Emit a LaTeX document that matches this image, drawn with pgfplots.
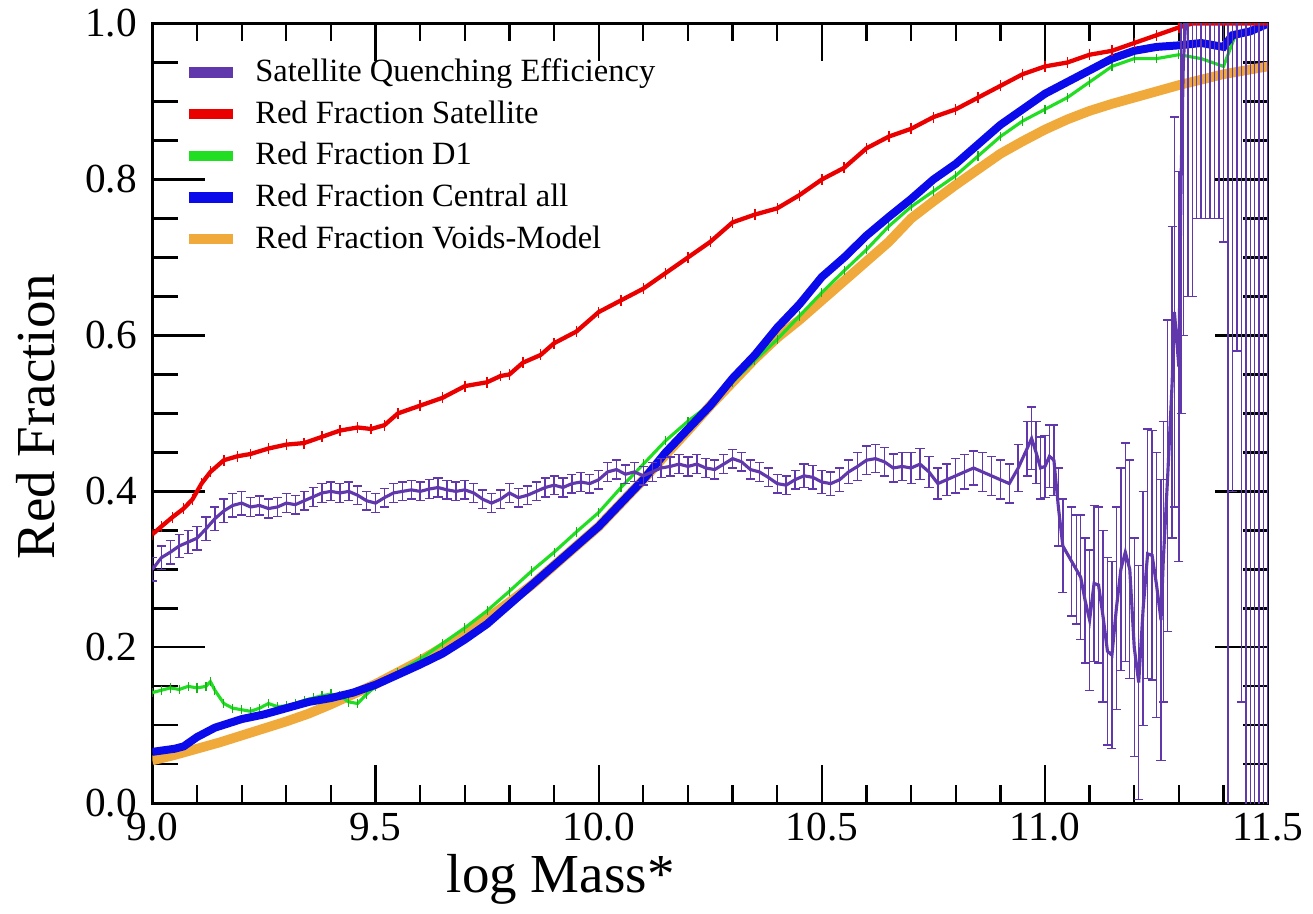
\documentclass[border=0pt]{standalone}
\usepackage{fontspec}
\setmainfont{Liberation Serif}[Ligatures=TeX]
\newfontfamily\tms{Liberation Serif}
\usepackage{pgfplots}
\usepackage{pgfplotstable}
\pgfplotsset{compat=1.18}

\definecolor{qpurple}{RGB}{96,56,172}
\definecolor{sred}{RGB}{235,0,0}
\definecolor{dgreen}{RGB}{34,222,34}
\definecolor{cblue}{RGB}{10,10,235}
\definecolor{vorange}{RGB}{240,170,60}

% satellite quenching efficiency (x, value, error)
\pgfplotstableread{
x y e
9.00 0.300 0.015
9.02 0.315 0.015
9.04 0.322 0.015
9.06 0.330 0.015
9.08 0.335 0.015
9.10 0.340 0.015
9.12 0.352 0.015
9.14 0.365 0.015
9.16 0.375 0.015
9.18 0.382 0.015
9.20 0.385 0.015
9.22 0.380 0.012
9.24 0.382 0.012
9.26 0.378 0.012
9.28 0.380 0.012
9.30 0.385 0.012
9.32 0.383 0.012
9.34 0.388 0.012
9.36 0.393 0.012
9.38 0.398 0.012
9.40 0.400 0.012
9.42 0.398 0.012
9.44 0.400 0.012
9.46 0.395 0.012
9.48 0.388 0.012
9.50 0.385 0.012
9.52 0.392 0.012
9.54 0.398 0.012
9.56 0.400 0.012
9.58 0.402 0.012
9.60 0.400 0.012
9.62 0.403 0.012
9.64 0.405 0.012
9.66 0.402 0.012
9.68 0.400 0.012
9.70 0.402 0.012
9.72 0.398 0.012
9.74 0.390 0.012
9.76 0.385 0.012
9.78 0.390 0.012
9.80 0.398 0.012
9.82 0.392 0.012
9.84 0.395 0.012
9.86 0.400 0.012
9.88 0.405 0.012
9.90 0.408 0.012
9.92 0.405 0.012
9.94 0.410 0.012
9.96 0.412 0.012
9.98 0.410 0.012
10.00 0.415 0.012
10.02 0.425 0.012
10.04 0.428 0.012
10.06 0.422 0.012
10.08 0.425 0.012
10.10 0.420 0.012
10.12 0.425 0.012
10.14 0.430 0.012
10.16 0.432 0.012
10.18 0.435 0.012
10.20 0.432 0.012
10.22 0.435 0.012
10.24 0.430 0.012
10.26 0.428 0.012
10.28 0.435 0.012
10.30 0.442 0.012
10.32 0.438 0.012
10.34 0.428 0.012
10.36 0.425 0.012
10.38 0.418 0.012
10.40 0.410 0.012
10.42 0.408 0.012
10.44 0.415 0.012
10.46 0.420 0.015
10.48 0.418 0.015
10.50 0.412 0.015
10.52 0.410 0.015
10.54 0.415 0.015
10.56 0.425 0.015
10.58 0.432 0.018
10.60 0.440 0.018
10.62 0.442 0.018
10.64 0.438 0.018
10.66 0.430 0.018
10.68 0.432 0.018
10.70 0.430 0.020
10.72 0.435 0.020
10.74 0.425 0.020
10.76 0.410 0.020
10.78 0.415 0.020
10.80 0.420 0.022
10.82 0.425 0.022
10.84 0.430 0.022
10.86 0.425 0.025
10.88 0.420 0.025
10.90 0.415 0.025
10.92 0.410 0.025
10.94 0.430 0.030
10.96 0.455 0.035
10.97 0.468 0.040
10.98 0.450 0.040
10.99 0.430 0.040
11.00 0.432 0.040
11.01 0.445 0.040
11.02 0.440 0.045
11.03 0.380 0.050
11.04 0.330 0.060
11.06 0.310 0.070
11.07 0.300 0.070
11.08 0.290 0.080
11.09 0.260 0.080
11.10 0.235 0.090
11.11 0.282 0.100
11.12 0.280 0.100
11.13 0.240 0.110
11.14 0.195 0.120
11.15 0.190 0.120
11.16 0.250 0.130
11.17 0.300 0.130
11.18 0.322 0.140
11.19 0.300 0.140
11.20 0.200 0.140
11.21 0.155 0.150
11.22 0.250 0.150
11.23 0.320 0.160
11.24 0.318 0.160
11.25 0.280 0.170
11.26 0.235 0.180
11.265 0.310 0.180
11.275 0.420 0.200
11.285 0.540 0.200
11.29 0.630 0.250
11.30 0.560 0.250
11.305 0.800 0.300
11.31 0.950 0.350
11.32 1.050 0.400
11.33 1.100 0.450
11.34 1.050 0.300
11.35 1.100 0.350
11.36 1.050 0.300
11.37 1.000 0.250
11.38 1.100 0.350
11.39 1.050 0.300
11.40 1.000 0.280
11.41 1.100 1.150
11.42 1.050 0.650
11.43 1.000 0.420
11.44 1.050 0.920
11.45 1.100 1.200
11.46 1.100 1.200
11.47 1.050 1.200
11.48 1.100 1.200
11.49 1.050 1.200
11.50 1.100 1.200
}\quench

% red fraction of satellites
\pgfplotstableread{
x y
9.00 0.345
9.02 0.355
9.045 0.367
9.07 0.378
9.09 0.390
9.11 0.410
9.13 0.425
9.16 0.440
9.19 0.445
9.22 0.448
9.26 0.455
9.30 0.460
9.34 0.462
9.38 0.470
9.42 0.478
9.46 0.482
9.49 0.480
9.52 0.485
9.55 0.500
9.60 0.510
9.65 0.520
9.70 0.535
9.75 0.540
9.78 0.548
9.80 0.550
9.83 0.565
9.87 0.575
9.90 0.590
9.95 0.605
10.00 0.630
10.05 0.645
10.10 0.660
10.15 0.680
10.20 0.700
10.25 0.720
10.30 0.745
10.35 0.755
10.40 0.763
10.45 0.780
10.50 0.800
10.55 0.815
10.60 0.840
10.65 0.855
10.70 0.865
10.75 0.880
10.80 0.890
10.85 0.905
10.90 0.920
10.95 0.935
11.00 0.945
11.05 0.950
11.10 0.960
11.15 0.965
11.20 0.975
11.25 0.985
11.30 0.995
11.33 1.000
11.50 1.000
}\redsat

% red fraction D1
\pgfplotstableread{
x y
9.00 0.142
9.02 0.145
9.04 0.148
9.06 0.146
9.08 0.150
9.10 0.148
9.12 0.150
9.13 0.156
9.14 0.145
9.16 0.128
9.18 0.122
9.20 0.120
9.22 0.118
9.24 0.122
9.26 0.128
9.28 0.124
9.30 0.125
9.32 0.128
9.34 0.132
9.36 0.135
9.38 0.138
9.40 0.140
9.42 0.138
9.44 0.130
9.46 0.128
9.48 0.140
9.50 0.150
9.55 0.168
9.60 0.185
9.65 0.205
9.70 0.225
9.75 0.247
9.80 0.272
9.85 0.298
9.90 0.322
9.95 0.348
10.00 0.373
10.05 0.405
10.10 0.435
10.15 0.465
10.20 0.490
10.25 0.512
10.30 0.540
10.35 0.568
10.40 0.595
10.45 0.625
10.50 0.655
10.55 0.683
10.60 0.710
10.65 0.740
10.70 0.765
10.75 0.785
10.80 0.805
10.85 0.830
10.90 0.855
10.95 0.875
11.00 0.890
11.05 0.905
11.10 0.925
11.15 0.945
11.20 0.955
11.25 0.955
11.30 0.960
11.35 0.955
11.40 0.945
11.42 0.975
11.43 0.990
}\done

% red fraction of all centrals
\pgfplotstableread{
x y
9.00 0.066
9.05 0.070
9.07 0.073
9.10 0.085
9.14 0.097
9.20 0.108
9.25 0.114
9.30 0.122
9.35 0.130
9.40 0.135
9.45 0.142
9.50 0.152
9.55 0.165
9.60 0.178
9.65 0.192
9.70 0.210
9.75 0.230
9.80 0.255
9.85 0.280
9.90 0.305
9.95 0.330
10.00 0.355
10.05 0.385
10.10 0.415
10.15 0.450
10.20 0.480
10.25 0.510
10.30 0.545
10.35 0.575
10.40 0.610
10.45 0.640
10.50 0.675
10.55 0.700
10.60 0.728
10.65 0.752
10.70 0.775
10.75 0.800
10.80 0.820
10.85 0.845
10.90 0.870
10.95 0.890
11.00 0.910
11.05 0.925
11.10 0.940
11.15 0.955
11.20 0.965
11.25 0.970
11.30 0.972
11.35 0.975
11.40 0.970
11.42 0.985
11.46 0.990
11.50 1.000
}\central

% voids model
\pgfplotstableread{
x y
9.00 0.055
9.05 0.062
9.10 0.070
9.15 0.078
9.20 0.087
9.25 0.096
9.30 0.105
9.35 0.115
9.40 0.127
9.45 0.140
9.50 0.153
9.55 0.168
9.60 0.183
9.65 0.200
9.70 0.218
9.75 0.237
9.80 0.258
9.85 0.280
9.90 0.305
9.95 0.330
10.00 0.355
10.05 0.385
10.10 0.415
10.15 0.447
10.20 0.478
10.25 0.510
10.30 0.540
10.35 0.570
10.40 0.597
10.45 0.620
10.50 0.645
10.55 0.670
10.60 0.695
10.65 0.720
10.70 0.750
10.75 0.772
10.80 0.793
10.85 0.813
10.90 0.833
10.95 0.849
11.00 0.864
11.05 0.877
11.10 0.888
11.15 0.897
11.20 0.905
11.25 0.913
11.30 0.921
11.35 0.928
11.40 0.935
11.45 0.940
11.50 0.945
}\voids

\begin{document}
\begin{tikzpicture}
\begin{axis}[
  scale only axis,
  width=391.6pt, height=273.7pt,
  xmin=9, xmax=11.5, ymin=0, ymax=1,
  xtick={9,9.5,10,10.5,11,11.5},
  ytick={0,0.2,0.4,0.6,0.8,1},
  minor x tick num=4,
  minor y tick num=3,
  tick align=inside,
  axis line style={line width=0.9pt},
  xtick style={line width=0.8pt, black, /pgfplots/major tick length=13.3pt, /pgfplots/minor tick length=6.3pt},
  ytick style={line width=0.8pt, black, /pgfplots/major tick length=18.5pt, /pgfplots/minor tick length=8.8pt},
  /pgf/number format/.cd, fixed, fixed zerofill, precision=1, assume math mode=true,
  /pgfplots/.cd,
  ticklabel style={font=\tms\fontsize{14.5}{16}\selectfont},
  yticklabel style={xshift=-2pt},
  xlabel={log Mass*}, ylabel={Red Fraction},
  label style={font=\tms\fontsize{19.3}{21}\selectfont},
  xlabel style={at={(axis description cs:0.366,-0.097)}, anchor=center},
  ylabel style={at={(axis description cs:-0.105,0.496)}, anchor=center},
  legend style={at={(0.02,0.97)}, anchor=north west, draw=none, fill=none,
    font=\tms\fontsize{11.4}{13}\selectfont, row sep=1.2pt,
    /tikz/every odd column/.append style={column sep=4pt}},
  legend cell align=left,
  legend image code/.code={\draw[line width=3.6pt] (0pt,0pt) -- (15.5pt,0pt);},
]
\addlegendimage{qpurple}
\addlegendentry{Satellite Quenching Efficiency}
\addlegendimage{sred}
\addlegendentry{Red Fraction Satellite}
\addlegendimage{dgreen}
\addlegendentry{Red Fraction D1}
\addlegendimage{cblue}
\addlegendentry{Red Fraction Central all}
\addlegendimage{vorange}
\addlegendentry{Red Fraction Voids-Model}

\addplot[vorange, line width=3.4pt, forget plot] table[x=x, y=y] {\voids};
\addplot[dgreen, line width=1.1pt, forget plot,
  error bars/.cd, y dir=both, y fixed=0.006,
  error bar style={line width=0.4pt, dgreen!80!black}, error mark=none]
  table[x=x, y=y] {\done};
\addplot[cblue, line width=2.8pt, forget plot] table[x=x, y=y] {\central};
\addplot[sred, line width=1.5pt, forget plot,
  error bars/.cd, y dir=both, y fixed=0.007,
  error bar style={line width=0.5pt, sred}, error mark=none]
  table[x=x, y=y] {\redsat};
\addplot[qpurple, line width=1.1pt, forget plot,
  error bars/.cd, y dir=both, y explicit,
  error bar style={line width=0.5pt, qpurple},
  error mark options={qpurple, mark size=1.6pt, line width=0.5pt, rotate=90}]
  table[x=x, y=y, y error=e] {\quench};
\end{axis}
% page margins as in the reference
\path (current axis.south west) ++(-53.5pt,-34.6pt) (current axis.north east) ++(14.3pt,7.7pt);
\end{tikzpicture}
\end{document}
